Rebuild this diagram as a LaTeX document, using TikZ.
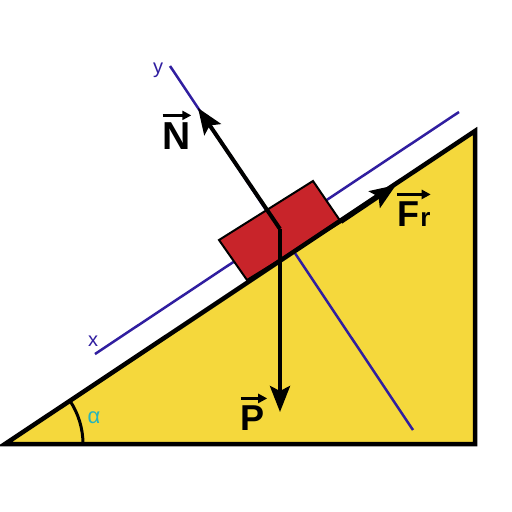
\documentclass[tikz,border=0pt]{standalone}
\usepackage{fontspec}
\setmainfont{Liberation Sans}
\usepackage{tikz}
\usetikzlibrary{positioning, arrows.meta, calc}
\definecolor{slopeyellow}{RGB}{245,216,60}
\definecolor{blockred}{RGB}{200,36,42}
\definecolor{axisblue}{RGB}{48,30,160}
\definecolor{angleteal}{RGB}{40,180,185}

\begin{document}
\begin{tikzpicture}[x=1pt, y=-1pt]
        \tikzstyle{axis} = [draw=axisblue, line width=2.5pt]
        \tikzstyle{force} = [line width=4pt, -{Stealth[length=26pt, width=20pt, inset=5pt]}]
        \tikzstyle{vlabel} = [font=\fontsize{36}{36}\selectfont\bfseries, inner sep=0pt]
        \tikzstyle{vecarrow} = [line width=2.5pt, -{Triangle[length=9pt, width=9pt]}]
        \tikzstyle{axlabel} = [font=\fontsize{20}{20}\selectfont, text=axisblue, inner sep=0pt]

        \useasboundingbox (0,0) rectangle (512,512);
        \fill[white] (0,0) rectangle (512,512);

        % inclined plane
        \coordinate (foot) at (5,444);
        \coordinate (base) at (475,444);
        \coordinate (top) at (475,131);
        \fill[slopeyellow] (foot) -- (base) -- (top) -- cycle;

        % axes
        \coordinate (x0) at (95,354);
        \coordinate (x1) at (459,112);
        \coordinate (y0) at (170,66);
        \coordinate (y1) at (413,430);
        \draw[axis] (x0) -- (x1);
        \draw[axis] (y0) -- (y1);
        \node[axlabel] (lx) at (93,341) {x};
        \node[axlabel] (ly) at (158,70) {y};

        % block
        \coordinate (b1) at (247,280);
        \coordinate (b2) at (341,222);
        \coordinate (b3) at (313,181);
        \coordinate (b4) at (219,240);
        \draw[fill=blockred, line width=2pt] (b1) -- (b2) -- (b3) -- (b4) -- cycle;

        \draw[line width=4.5pt, line join=miter] (foot) -- (base) -- (top) -- cycle;

        % angle
        \draw[line width=3pt] ($(foot)+(78,0)$) arc[start angle=0, end angle=-33.7, radius=78];
        \node[font=\fontsize{22}{22}\selectfont, text=angleteal, inner sep=0pt] (alpha) at (94,418) {α};

        % forces
        \coordinate (O) at (280,229);
        \coordinate (Ntip) at (198,108);
        \coordinate (Ptip) at (280,412);
        \coordinate (Ftip) at (396,185);
        \draw[force] (O) -- (Ntip);
        \draw[force] (O) -- (Ptip);
        \draw[force] (b2) -- (Ftip);

        % force labels
        \node[vlabel, font=\fontsize{39}{39}\selectfont\bfseries] (lN) at (177,136) {N};
        \node[vlabel] (lP) at (253,418) {P};
        \node[vlabel] (lF) at (408,214) {F};
        \node[vlabel, font=\fontsize{26}{26}\selectfont\bfseries, anchor=base west, xshift=1pt] (lr) at (lF.base east) {r};
        \draw[vecarrow] ([yshift=7pt]lN.north west) -- ([yshift=7pt]lN.north east);
        \draw[vecarrow] ([yshift=7pt]lP.north west) -- ([yshift=7pt, xshift=2pt]lP.north east);
        \draw[vecarrow] ([yshift=7pt]lF.north west) -- ([yshift=7pt]lr.east |- lF.north);
\end{tikzpicture}
\end{document}
